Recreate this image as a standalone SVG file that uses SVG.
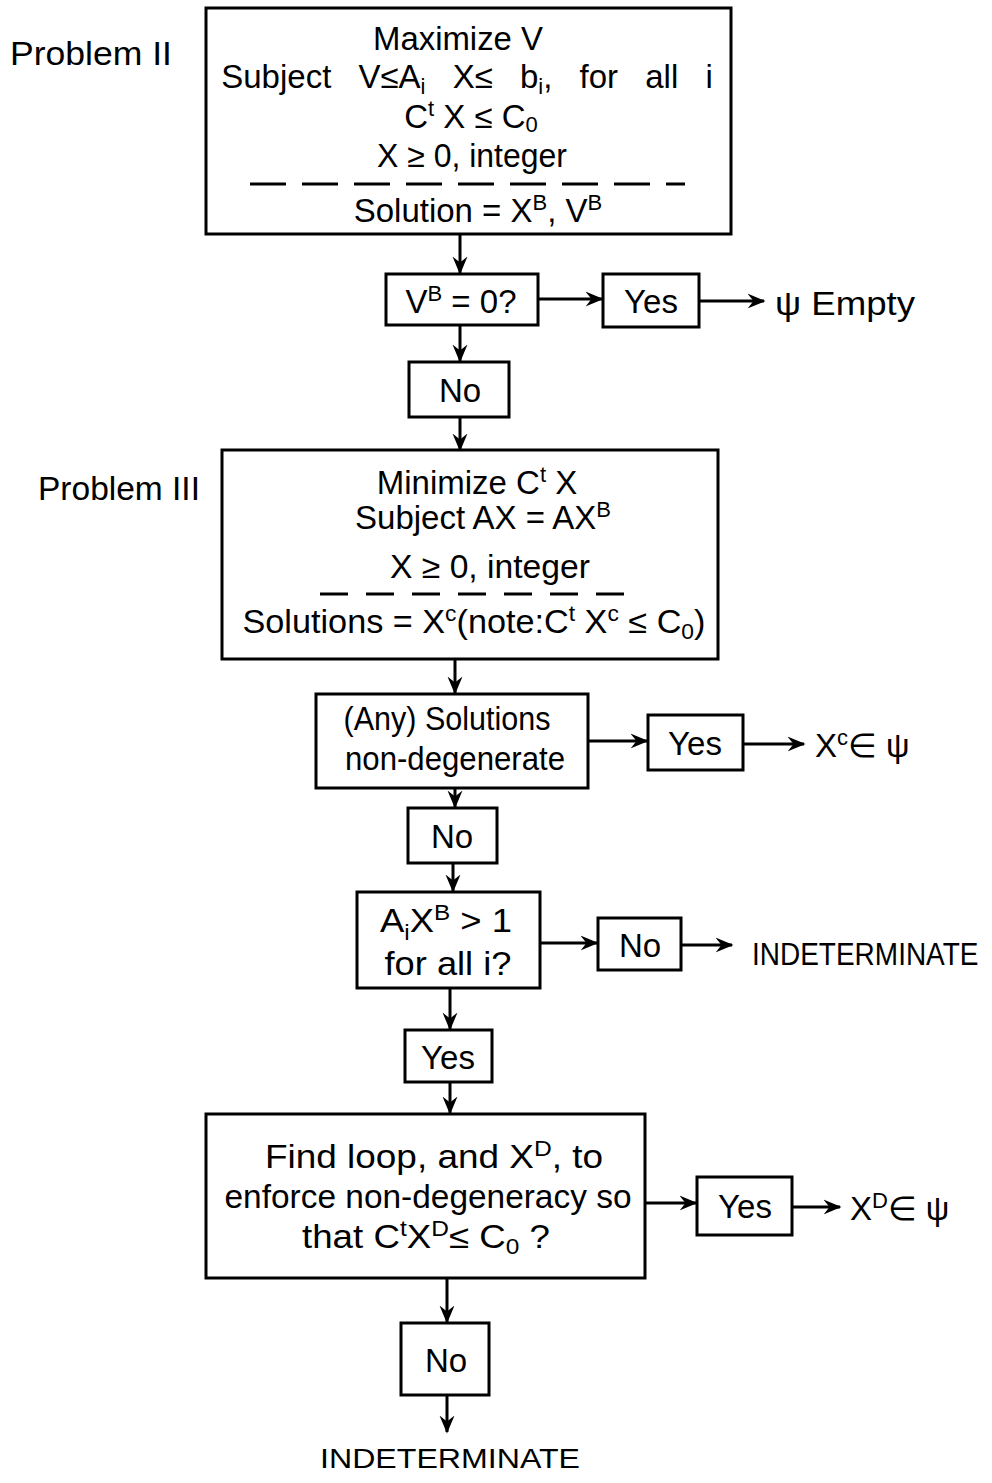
<svg xmlns="http://www.w3.org/2000/svg" width="992" height="1483" viewBox="0 0 992 1483">
<style>
text{font-family:"Liberation Sans","DejaVu Sans",sans-serif;font-size:33px;fill:#000}
.m{text-anchor:middle}
.box{fill:#fff;stroke:#000;stroke-width:3}
.c line{stroke:#000;stroke-width:3;marker-end:url(#ah)}
.s{font-size:22px}
.ind{font-size:28px}
</style>
<defs>
<marker id="ah" viewBox="0 0 12 12" refX="11" refY="6" markerWidth="6" markerHeight="6" orient="auto" markerUnits="strokeWidth">
<path d="M0,1 L12,6 L0,11 L4,6 Z" fill="#000"/>
</marker>
</defs>
<rect width="992" height="1483" fill="#fff"/>

<g class="c" id="connectors">
<line x1="460" y1="235" x2="460" y2="273"/>
<line x1="538" y1="299" x2="602" y2="299"/>
<line x1="699" y1="301" x2="764" y2="301"/>
<line x1="460" y1="325" x2="460" y2="361"/>
<line x1="460" y1="417" x2="460" y2="450"/>
<line x1="455" y1="659" x2="455" y2="693"/>
<line x1="588" y1="741" x2="647" y2="741"/>
<line x1="743" y1="744" x2="804" y2="744"/>
<line x1="455" y1="788" x2="455" y2="807"/>
<line x1="453" y1="863" x2="453" y2="891"/>
<line x1="540" y1="943" x2="597" y2="943"/>
<line x1="681" y1="945" x2="732" y2="945"/>
<line x1="450" y1="988" x2="450" y2="1029"/>
<line x1="450" y1="1082" x2="450" y2="1113"/>
<line x1="645" y1="1203" x2="696" y2="1203"/>
<line x1="792" y1="1207" x2="840" y2="1207"/>
<line x1="447" y1="1278" x2="447" y2="1322"/>
<line x1="447" y1="1395" x2="447" y2="1432"/>
</g>

<g id="label-problem2"><text x="10" y="65" textLength="162" lengthAdjust="spacingAndGlyphs">Problem II</text></g>
<g id="problem2">
<rect class="box" x="206" y="8" width="525" height="226"/>
<text class="m" x="458" y="50" textLength="170" lengthAdjust="spacingAndGlyphs">Maximize V</text>
<text class="m" x="467" y="88" word-spacing="18">Subject V≤A<tspan class="s" dy="6">i</tspan><tspan dy="-6"> X≤ b</tspan><tspan class="s" dy="6">i</tspan><tspan dy="-6">, for all i</tspan></text>
<text class="m" x="471" y="128">C<tspan class="s" dy="-12">t</tspan><tspan dy="12"> X ≤ C</tspan><tspan class="s" dy="4">0</tspan></text>
<text class="m" x="472" y="167" textLength="190" lengthAdjust="spacingAndGlyphs">X ≥ 0, integer</text>
<line x1="250" y1="184" x2="685" y2="184" stroke="#000" stroke-width="3" stroke-dasharray="36 16"/>
<text class="m" x="478" y="222">Solution = X<tspan class="s" dy="-12">B</tspan><tspan dy="12">, V</tspan><tspan class="s" dy="-12">B</tspan></text>
</g>

<g id="vb0">
<rect class="box" x="386" y="274" width="152" height="51"/>
<text class="m" x="461" y="313">V<tspan class="s" dy="-12">B</tspan><tspan dy="12"> = 0?</tspan></text>
</g>
<g id="yes1">
<rect class="box" x="603" y="274" width="96" height="53"/>
<text class="m" x="651" y="313">Yes</text>
</g>
<g id="empty"><text x="775" y="315" textLength="140" lengthAdjust="spacingAndGlyphs">ψ Empty</text></g>
<g id="no1">
<rect class="box" x="409" y="362" width="100" height="55"/>
<text class="m" x="460" y="402">No</text>
</g>

<g id="label-problem3"><text x="38" y="500" textLength="162" lengthAdjust="spacingAndGlyphs">Problem III</text></g>
<g id="problem3">
<rect class="box" x="222" y="450" width="496" height="209"/>
<text class="m" x="477" y="494">Minimize C<tspan class="s" dy="-12">t</tspan><tspan dy="12"> X</tspan></text>
<text class="m" x="483" y="529" font-size="31">Subject AX = AX<tspan class="s" dy="-12">B</tspan></text>
<text class="m" x="490" y="578" textLength="200" lengthAdjust="spacingAndGlyphs">X ≥ 0, integer</text>
<line x1="320" y1="594" x2="640" y2="594" stroke="#000" stroke-width="3" stroke-dasharray="28 18"/>
<text class="m" x="474" y="633" textLength="463" lengthAdjust="spacingAndGlyphs">Solutions = X<tspan class="s" dy="-12">c</tspan><tspan dy="12">(note:C</tspan><tspan class="s" dy="-12">t</tspan><tspan dy="12"> X</tspan><tspan class="s" dy="-12">c</tspan><tspan dy="12"> ≤ C</tspan><tspan class="s" dy="6">0</tspan><tspan dy="-6">)</tspan></text>
</g>

<g id="nondeg">
<rect class="box" x="316" y="694" width="272" height="94"/>
<text class="m" x="447" y="730" textLength="207" lengthAdjust="spacingAndGlyphs">(Any) Solutions</text>
<text class="m" x="455" y="770" textLength="220" lengthAdjust="spacingAndGlyphs">non-degenerate</text>
</g>
<g id="yes2">
<rect class="box" x="648" y="715" width="95" height="55"/>
<text class="m" x="695" y="755">Yes</text>
</g>
<g id="xc"><text x="815" y="757">X<tspan class="s" dy="-12">c</tspan><tspan dy="12">∈ ψ</tspan></text></g>
<g id="no2">
<rect class="box" x="408" y="808" width="89" height="55"/>
<text class="m" x="452" y="848">No</text>
</g>

<g id="aix">
<rect class="box" x="357" y="892" width="183" height="96"/>
<text class="m" x="446" y="932" textLength="132" lengthAdjust="spacingAndGlyphs">A<tspan class="s" dy="8">i</tspan><tspan dy="-8">X</tspan><tspan class="s" dy="-12">B</tspan><tspan dy="12"> &gt; 1</tspan></text>
<text class="m" x="448" y="975" textLength="127" lengthAdjust="spacingAndGlyphs">for all i?</text>
</g>
<g id="no3">
<rect class="box" x="598" y="918" width="83" height="52"/>
<text class="m" x="640" y="957">No</text>
</g>
<g id="indet1"><text class="ind" transform="translate(752,965) scale(1,1.15)" x="0" y="0">INDETERMINATE</text></g>
<g id="yes3">
<rect class="box" x="405" y="1030" width="87" height="52"/>
<text class="m" x="448" y="1069">Yes</text>
</g>

<g id="findloop">
<rect class="box" x="206" y="1114" width="439" height="164"/>
<text class="m" x="434" y="1168" textLength="338" lengthAdjust="spacingAndGlyphs">Find  loop, and  X<tspan class="s" dy="-12">D</tspan><tspan dy="12">, to</tspan></text>
<text class="m" x="428" y="1208" textLength="407" lengthAdjust="spacingAndGlyphs">enforce non-degeneracy so</text>
<text class="m" x="426" y="1248" textLength="248" lengthAdjust="spacingAndGlyphs">that C<tspan class="s" dy="-12">t</tspan><tspan dy="12">X</tspan><tspan class="s" dy="-12">D</tspan><tspan dy="12">≤ C</tspan><tspan class="s" dy="6">0</tspan><tspan dy="-6"> ?</tspan></text>
</g>
<g id="yes4">
<rect class="box" x="697" y="1177" width="95" height="58"/>
<text class="m" x="745" y="1218">Yes</text>
</g>
<g id="xd"><text x="850" y="1220">X<tspan class="s" dy="-12">D</tspan><tspan dy="12">∈ ψ</tspan></text></g>
<g id="no4">
<rect class="box" x="401" y="1323" width="88" height="72"/>
<text class="m" x="446" y="1372">No</text>
</g>
<g id="indet2"><text class="ind m" x="450" y="1468" textLength="260" lengthAdjust="spacingAndGlyphs">INDETERMINATE</text></g>
</svg>
